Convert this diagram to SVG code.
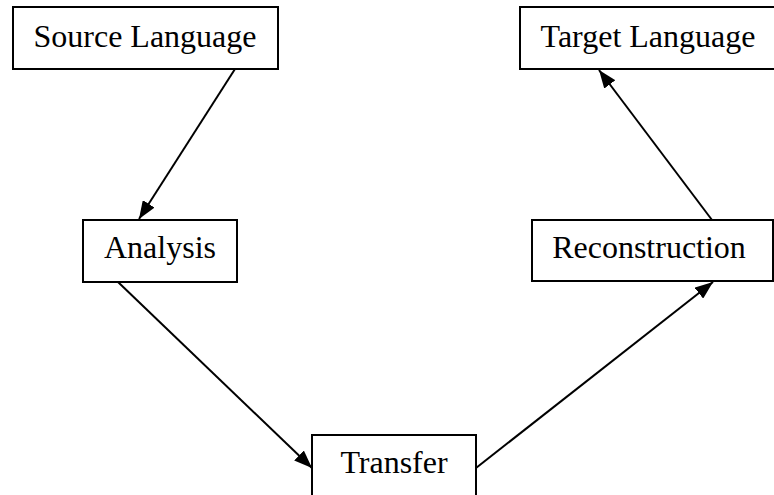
<svg xmlns="http://www.w3.org/2000/svg" width="774" height="495" viewBox="0 0 774 495">
<style>
.box{fill:#fff;stroke:#000;stroke-width:2}
.lbl{font-family:"Liberation Serif","Times New Roman",serif;font-size:32px;fill:#000;text-anchor:middle}
.edge{stroke:#000;stroke-width:2;fill:none;marker-end:url(#arr)}
</style>
<defs>
<marker id="arr" viewBox="0 0 18 14" refX="18" refY="7" markerWidth="18" markerHeight="14" markerUnits="userSpaceOnUse" orient="auto">
<path d="M0,0 L18,7 L0,14 Z" fill="#000"/>
</marker>
</defs>
<rect width="774" height="495" fill="#fff"/>
<g id="edges">
<line class="edge" x1="235" y1="69" x2="139" y2="219"/>
<line class="edge" x1="118" y1="282" x2="312" y2="468"/>
<line class="edge" x1="476" y1="468" x2="713" y2="282"/>
<line class="edge" x1="712" y1="220" x2="599" y2="70"/>
</g>
<g id="source">
<rect class="box" x="13" y="7" width="265" height="62"/>
<text class="lbl" x="145" y="47">Source Language</text>
</g>
<g id="target">
<rect class="box" x="520" y="7" width="256" height="62"/>
<text class="lbl" x="648" y="47">Target Language</text>
</g>
<g id="analysis">
<rect class="box" x="83" y="220" width="154" height="62"/>
<text class="lbl" x="160" y="258">Analysis</text>
</g>
<g id="reconstruction">
<rect class="box" x="532" y="220" width="241" height="61"/>
<text class="lbl" x="649" y="258">Reconstruction</text>
</g>
<g id="transfer">
<rect class="box" x="312" y="435" width="164" height="65"/>
<text class="lbl" x="394" y="473">Transfer</text>
</g>
</svg>
